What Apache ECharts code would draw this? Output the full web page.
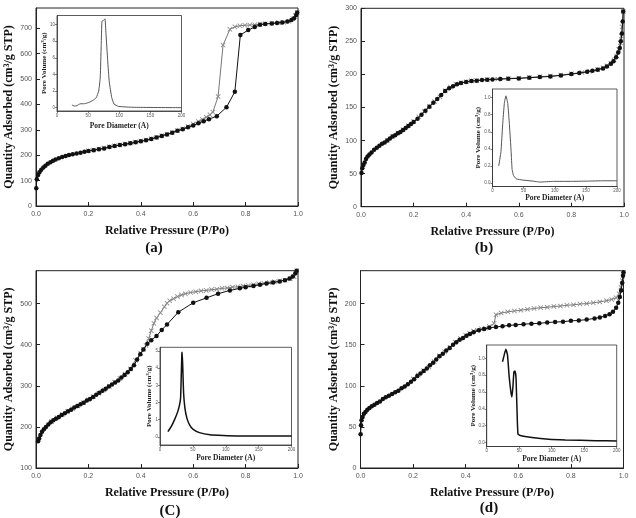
<!DOCTYPE html>
<html><head><meta charset="utf-8">
<script src="https://cdn.jsdelivr.net/npm/echarts@6/dist/echarts.min.js"></script>
<style>html,body{margin:0;padding:0;background:#fff}#c{width:636px;height:518px}</style>
</head><body><div id="c"></div>
<script>
// ---------- DATA ----------
const xTicksMain = [0, 0.2, 0.4, 0.6, 0.8, 1.0];
const yTicksA = [0, 100, 200, 300, 400, 500, 600, 700];
const yTicksB = [0, 50, 100, 150, 200, 250, 300];
const yTicksC = [100, 200, 300, 400, 500];
const yTicksD = [0, 50, 100, 150, 200];
const insetXTicks = [0, 50, 100, 150, 200];
const insetYTicksA = [0, 2, 4, 6, 8, 10];
const insetYTicksB = [0, 0.2, 0.4, 0.6, 0.8, 1.0];
const insetYTicksC = [0, 1, 2, 3, 4, 5];
const insetYTicksD = [0, 0.2, 0.4, 0.6, 0.8, 1.0];
const panelLabels = ['(a)', '(b)', '(C)', '(d)'];

const adsA = [[0.001,70],[0.003,105],[0.008,122],[0.013,133],[0.02,143],[0.028,152],[0.036,159],[0.045,166],[0.055,172],[0.065,178],[0.075,183],[0.087,188],[0.1,193],[0.113,197],[0.126,201],[0.14,204],[0.155,207],[0.17,210],[0.185,214],[0.2,217],[0.22,220],[0.24,224],[0.26,227],[0.28,232],[0.3,236],[0.32,240],[0.34,243],[0.36,247],[0.38,251],[0.4,255],[0.42,259],[0.44,264],[0.46,270],[0.48,276],[0.5,282],[0.52,289],[0.54,296],[0.56,302],[0.58,310],[0.6,317],[0.62,326],[0.64,334],[0.66,342],[0.69,354],[0.727,389],[0.759,450],[0.78,674],[0.81,693],[0.835,705],[0.855,714],[0.875,717],[0.9,719],[0.92,721],[0.94,723],[0.96,727],[0.975,733],[0.985,740],[0.993,752],[0.997,762]];
const desA = [[0.997,762],[0.99,750],[0.98,738],[0.965,728],[0.945,724],[0.925,722],[0.9,720],[0.875,718],[0.855,716],[0.835,714],[0.816,713],[0.797,712],[0.778,710],[0.759,706],[0.74,696],[0.714,634],[0.695,431],[0.675,370],[0.664,359],[0.65,350],[0.635,341],[0.62,333],[0.6,323],[0.58,313],[0.56,304],[0.54,297],[0.52,290],[0.5,283],[0.48,277],[0.46,271],[0.44,265],[0.42,260],[0.4,256],[0.38,252],[0.36,248],[0.34,244],[0.32,240],[0.3,237],[0.28,233],[0.26,228],[0.24,225],[0.22,221],[0.2,218]];

const adsB = [[0.002,51],[0.005,58],[0.009,63],[0.014,67],[0.019,72],[0.025,76],[0.032,79],[0.04,82],[0.05,86],[0.06,89],[0.07,92],[0.08,95],[0.09,97],[0.1,100],[0.11,103],[0.12,106],[0.13,108],[0.14,111],[0.15,113],[0.16,116],[0.17,119],[0.18,122],[0.19,125],[0.2,128],[0.215,133],[0.23,139],[0.245,145],[0.26,151],[0.275,157],[0.29,163],[0.305,169],[0.32,175],[0.335,179],[0.35,182],[0.365,185],[0.38,187],[0.4,188.5],[0.42,190],[0.44,190.5],[0.46,191.5],[0.48,192],[0.5,192.5],[0.53,193],[0.56,193.5],[0.6,194],[0.64,195],[0.68,196],[0.72,197],[0.76,198.5],[0.8,200.5],[0.83,202],[0.86,204],[0.88,205.5],[0.9,207],[0.92,209],[0.935,212],[0.95,216],[0.96,220],[0.97,226],[0.978,233],[0.984,240],[0.988,250],[0.992,262],[0.995,280],[0.997,295]];
const desB = [[0.997,295],[0.993,272],[0.99,258],[0.986,248],[0.98,238],[0.972,228],[0.962,222],[0.95,217],[0.935,213],[0.92,210],[0.9,207.5],[0.87,205],[0.84,203],[0.8,201],[0.76,199],[0.72,197.5],[0.68,196.5],[0.64,195.5],[0.6,194.5],[0.56,194],[0.52,193],[0.48,192.5],[0.44,191],[0.42,190.5],[0.4,189],[0.38,187.5],[0.36,185.5],[0.34,181],[0.32,175.5],[0.3,166],[0.28,159],[0.26,152],[0.24,144],[0.22,136],[0.2,129],[0.18,122.5],[0.16,116.5],[0.14,111.5],[0.12,106.5],[0.1,100.5]];

const adsC = [[0.008,165],[0.012,172],[0.017,180],[0.023,188],[0.03,194],[0.038,200],[0.047,206],[0.056,211],[0.066,216],[0.076,220],[0.087,224],[0.098,229],[0.11,233],[0.122,238],[0.134,242],[0.146,247],[0.158,251],[0.17,255],[0.182,259],[0.194,264],[0.206,268],[0.218,273],[0.23,278],[0.242,283],[0.254,288],[0.266,293],[0.278,298],[0.29,303],[0.302,308],[0.314,313],[0.326,320],[0.338,326],[0.35,333],[0.362,341],[0.374,350],[0.386,364],[0.398,377],[0.41,388],[0.425,402],[0.44,411],[0.46,421],[0.48,436],[0.5,449],[0.543,479],[0.6,502],[0.651,514],[0.695,524],[0.74,532],[0.778,537],[0.8,540],[0.83,543],[0.855,546],[0.88,549],[0.905,551],[0.93,554],[0.95,557],[0.968,561],[0.98,566],[0.99,574],[0.995,580]];
const desC = [[0.995,580],[0.985,565],[0.97,560],[0.95,557],[0.93,555],[0.91,553],[0.89,551],[0.87,549],[0.85,548],[0.83,546],[0.81,544],[0.79,543],[0.77,541],[0.75,540],[0.73,538],[0.71,537],[0.69,535],[0.67,534],[0.65,532],[0.63,531],[0.61,529],[0.59,527],[0.57,524],[0.555,521],[0.54,517],[0.525,512],[0.51,507],[0.5,501],[0.49,492],[0.475,478],[0.46,465],[0.45,452],[0.44,434],[0.43,415],[0.42,398],[0.41,389],[0.4,379],[0.38,362],[0.36,341],[0.34,328],[0.32,318],[0.3,309],[0.28,299],[0.26,290],[0.24,282],[0.22,274],[0.2,266],[0.18,259],[0.16,251],[0.14,244],[0.12,237],[0.1,230],[0.08,222],[0.06,213]];

const adsD = [[0.0005,41],[0.002,52],[0.004,58],[0.008,62],[0.013,66],[0.019,68],[0.026,71],[0.034,73],[0.043,75],[0.053,77],[0.063,79],[0.074,81],[0.085,84],[0.096,86],[0.108,88],[0.12,90],[0.132,92],[0.144,94],[0.156,97],[0.168,99],[0.18,102],[0.192,105],[0.204,108],[0.216,112],[0.228,115],[0.24,118],[0.252,121],[0.264,125],[0.276,128],[0.288,132],[0.3,136],[0.313,139],[0.326,143],[0.339,146],[0.352,150],[0.364,153],[0.377,156],[0.39,158],[0.403,161],[0.416,163],[0.43,165],[0.45,167.5],[0.47,169],[0.49,170.5],[0.515,171.5],[0.54,172.5],[0.565,173.5],[0.59,174],[0.62,175],[0.65,175.5],[0.68,176],[0.71,177],[0.74,177.5],[0.77,178],[0.8,179],[0.83,179.5],[0.86,180.5],[0.89,182],[0.91,183],[0.93,185],[0.947,187],[0.96,190],[0.972,195],[0.98,201],[0.986,208],[0.991,216],[0.995,225],[0.998,234],[1.0,238]];
const desD = [[1.0,238],[0.995,228],[0.99,220],[0.983,212],[0.972,207],[0.955,205],[0.935,203.5],[0.91,202],[0.885,201],[0.86,200],[0.835,199.5],[0.81,198.5],[0.785,198],[0.76,197],[0.735,196.5],[0.71,195.5],[0.685,195],[0.66,194],[0.635,193],[0.61,192],[0.585,191],[0.56,190],[0.535,188.5],[0.515,186.5],[0.508,176],[0.49,172],[0.475,170],[0.46,169.5],[0.445,167.5],[0.43,166.5],[0.415,164],[0.4,161.5],[0.38,157.5],[0.36,153],[0.34,147],[0.32,141.5],[0.3,136.5],[0.28,129.5],[0.26,123],[0.24,118.5],[0.22,113],[0.2,108.5]];

const psdA = [[24,0.32],[28,0.2],[32,0.24],[37,0.46],[44,0.48],[51,0.62],[58,0.9],[63,1.2],[67,2.0],[69.5,3.7],[71,7.5],[72.2,10.4],[74.5,10.5],[77,10.7],[78.7,8.9],[81.4,5.7],[84,3.1],[87.9,1.24],[91.6,0.44],[98.7,0.16],[112,0.08],[128,0.04],[200,0.0]];
const psdB = [[10,0.2],[13.6,0.37],[16.3,0.68],[19,0.93],[21.5,1.02],[24.5,0.93],[27.2,0.68],[29.9,0.37],[31.5,0.16],[33.7,0.09],[38,0.05],[49,0.035],[65,0.023],[76,0.012],[98,0.02],[125,0.02],[152,0.023],[179,0.027],[200,0.027]];
const psdC = [[12,0.31],[17,0.6],[22,0.99],[27,1.47],[29.7,1.86],[31.3,2.25],[32.3,3.5],[33.3,4.86],[33.8,4.92],[34.9,3.7],[35.9,2.54],[37.9,1.67],[41,1.08],[45,0.7],[50,0.45],[60,0.25],[76,0.12],[96,0.08],[117,0.06],[148,0.06],[200,0.06]];
const psdD = [[24.3,0.96],[26.9,1.04],[29.5,1.11],[32,1.04],[34.6,0.78],[37.2,0.6],[38.8,0.54],[40.3,0.66],[41.9,0.84],[43.4,0.85],[45,0.78],[46.5,0.42],[48.1,0.1],[51.7,0.08],[69.8,0.056],[95.6,0.036],[121,0.028],[168,0.02],[200,0.016]];

// ---------- LAYOUT ----------
const SERIF = '"Liberation Serif", "DejaVu Serif", serif';
const SANS = '"Liberation Sans", Arial, sans-serif';
const xMark = 'path://M0,1.2L1.2,0L5,3.8L8.8,0L10,1.2L6.2,5L10,8.8L8.8,10L5,6.2L1.2,10L0,8.8L3.8,5Z';

const panels = [
  { main: {left:36, top:8, width:262, height:198}, yMin:0, yMax:780, yTicks:yTicksA, ads:adsA, des:desA,
    label:[154,248],
    inset: {grid:{left:57, top:15.5, width:124.5, height:95.5}, yMin:-0.4, yMax:11.1, yTicks:insetYTicksA, fmt:v=>String(v), data:psdA, lw:1, color:'#555', xGap:11, yGap:9.5} },
  { main: {left:361, top:8.3, width:263, height:198.4}, yMin:0, yMax:300, yTicks:yTicksB, ads:adsB, des:desB,
    label:[484,248],
    inset: {grid:{left:492.5, top:89, width:124.5, height:97.5}, yMin:-0.04, yMax:1.10, yTicks:insetYTicksB, fmt:v=>v.toFixed(1), data:psdB, lw:1, color:'#555', xGap:8, yGap:11} },
  { main: {left:36, top:270.7, width:262, height:197.3}, yMin:100, yMax:580, yTicks:yTicksC, ads:adsC, des:desC,
    label:[170,511],
    inset: {grid:{left:160, top:347.3, width:131.5, height:97.7}, yMin:-0.47, yMax:5.21, yTicks:insetYTicksC, fmt:v=>String(v), data:psdC, lw:1.5, color:'#111', xGap:9.5, yGap:7.5} },
  { main: {left:360.5, top:270.7, width:263, height:197.3}, yMin:0, yMax:240, yTicks:yTicksD, ads:adsD, des:desD,
    label:[489,508],
    inset: {grid:{left:486.7, top:345, width:130, height:101.5}, yMin:-0.05, yMax:1.16, yTicks:insetYTicksD, fmt:v=>v.toFixed(1), data:psdD, lw:1.5, color:'#111', xGap:8.5, yGap:10} }
];

const grid = [], xAxis = [], yAxis = [], series = [], graphic = [];
const supRich = (fs) => ({ s: { fontSize: fs, fontFamily: SERIF, fontWeight: 'bold', color: '#111', verticalAlign: 'top' } });

panels.forEach((p, i) => {
  // main grid
  grid.push(Object.assign({ show: true, borderColor: '#222', borderWidth: 1, backgroundColor: '#fff', outerBoundsMode: 'none', containLabel: false }, p.main));
  const mi = grid.length - 1;
  xAxis.push({
    type: 'value', gridIndex: mi, min: 0, max: 1, interval: 0.2,
    axisLine: { show: true, onZero: false, lineStyle: { color: '#222' } },
    axisTick: { show: true, inside: true, length: 4, lineStyle: { color: '#222' } },
    axisLabel: { fontSize: 7, color: '#555', fontFamily: SANS, margin: 5, formatter: v => v.toFixed(1) },
    splitLine: { show: false },
    name: 'Relative Pressure (P/Po)', nameLocation: 'middle', nameGap: 19, nameMoveOverlap: false,
    nameTextStyle: { fontFamily: SERIF, fontWeight: 'bold', fontSize: 12, color: '#111' }
  });
  yAxis.push({
    type: 'value', gridIndex: mi, min: p.yMin, max: p.yMax,
    axisLine: { show: true, onZero: false, lineStyle: { color: '#222' } },
    axisTick: { show: true, inside: true, length: 4, lineStyle: { color: '#222' }, customValues: p.yTicks },
    axisLabel: { fontSize: 7, color: '#555', fontFamily: SANS, margin: 4, customValues: p.yTicks },
    splitLine: { show: false },
    name: 'Quantity Adsorbed (cm{s|3}/g STP)', nameLocation: 'middle', nameGap: 21, nameMoveOverlap: false,
    nameTextStyle: { fontFamily: SERIF, fontWeight: 'bold', fontSize: 12, color: '#111', rich: supRich(8) }
  });
  series.push({
    type: 'line', xAxisIndex: mi, yAxisIndex: mi, data: p.des, symbol: xMark, symbolSize: 5,
    itemStyle: { color: '#8a8a8a' }, lineStyle: { color: '#777', width: 1 }, animation: false, z: 2
  });
  series.push({
    type: 'line', xAxisIndex: mi, yAxisIndex: mi, data: p.ads, symbol: 'circle', symbolSize: 4.5,
    itemStyle: { color: '#111' }, lineStyle: { color: '#111', width: 1 }, animation: false, z: 3
  });

  // inset grid
  const ins = p.inset;
  grid.push(Object.assign({ show: true, borderColor: '#333', borderWidth: 0.8, backgroundColor: '#fff', outerBoundsMode: 'none', containLabel: false, z: 5 }, ins.grid));
  const ii = grid.length - 1;
  xAxis.push({
    type: 'value', gridIndex: ii, min: 0, max: 200, interval: 50, z: 6,
    axisLine: { show: true, onZero: false, lineStyle: { color: '#333', width: 0.8 } },
    axisTick: { show: true, inside: false, length: 2, lineStyle: { color: '#333', width: 0.6 } },
    axisLabel: { fontSize: 4.5, color: '#555', fontFamily: SANS, margin: 2 },
    splitLine: { show: false },
    name: 'Pore Diameter (A)', nameLocation: 'middle', nameGap: ins.xGap, nameMoveOverlap: false,
    nameTextStyle: { fontFamily: SERIF, fontWeight: 'bold', fontSize: 7.5, color: '#222' }
  });
  yAxis.push({
    type: 'value', gridIndex: ii, min: ins.yMin, max: ins.yMax, z: 6,
    axisLine: { show: true, onZero: false, lineStyle: { color: '#333', width: 0.8 } },
    axisTick: { show: true, inside: false, length: 2, lineStyle: { color: '#333', width: 0.6 }, customValues: ins.yTicks },
    axisLabel: { fontSize: 4.5, color: '#555', fontFamily: SANS, margin: 2, customValues: ins.yTicks, formatter: ins.fmt },
    splitLine: { show: false },
    name: 'Pore Volume (cm{s|3}/g)', nameLocation: 'middle', nameGap: ins.yGap, nameMoveOverlap: false,
    nameTextStyle: { fontFamily: SERIF, fontWeight: 'bold', fontSize: 7, color: '#222', rich: supRich(5) }
  });
  series.push({
    type: 'line', xAxisIndex: ii, yAxisIndex: ii, data: ins.data, showSymbol: false, symbol: 'none',
    lineStyle: { color: ins.color, width: ins.lw }, animation: false, z: 7, smooth: 0.15
  });

  graphic.push({
    type: 'text', x: p.label[0], y: p.label[1], z: 10,
    style: { text: panelLabels[i], font: 'bold 15px ' + SERIF, fill: '#111', align: 'center', verticalAlign: 'middle' }
  });
});

const chart = echarts.init(document.getElementById('c'), null, { renderer: 'canvas' });
chart.setOption({ animation: false, backgroundColor: '#fff', grid, xAxis, yAxis, series, graphic });
</script>
</body></html>
